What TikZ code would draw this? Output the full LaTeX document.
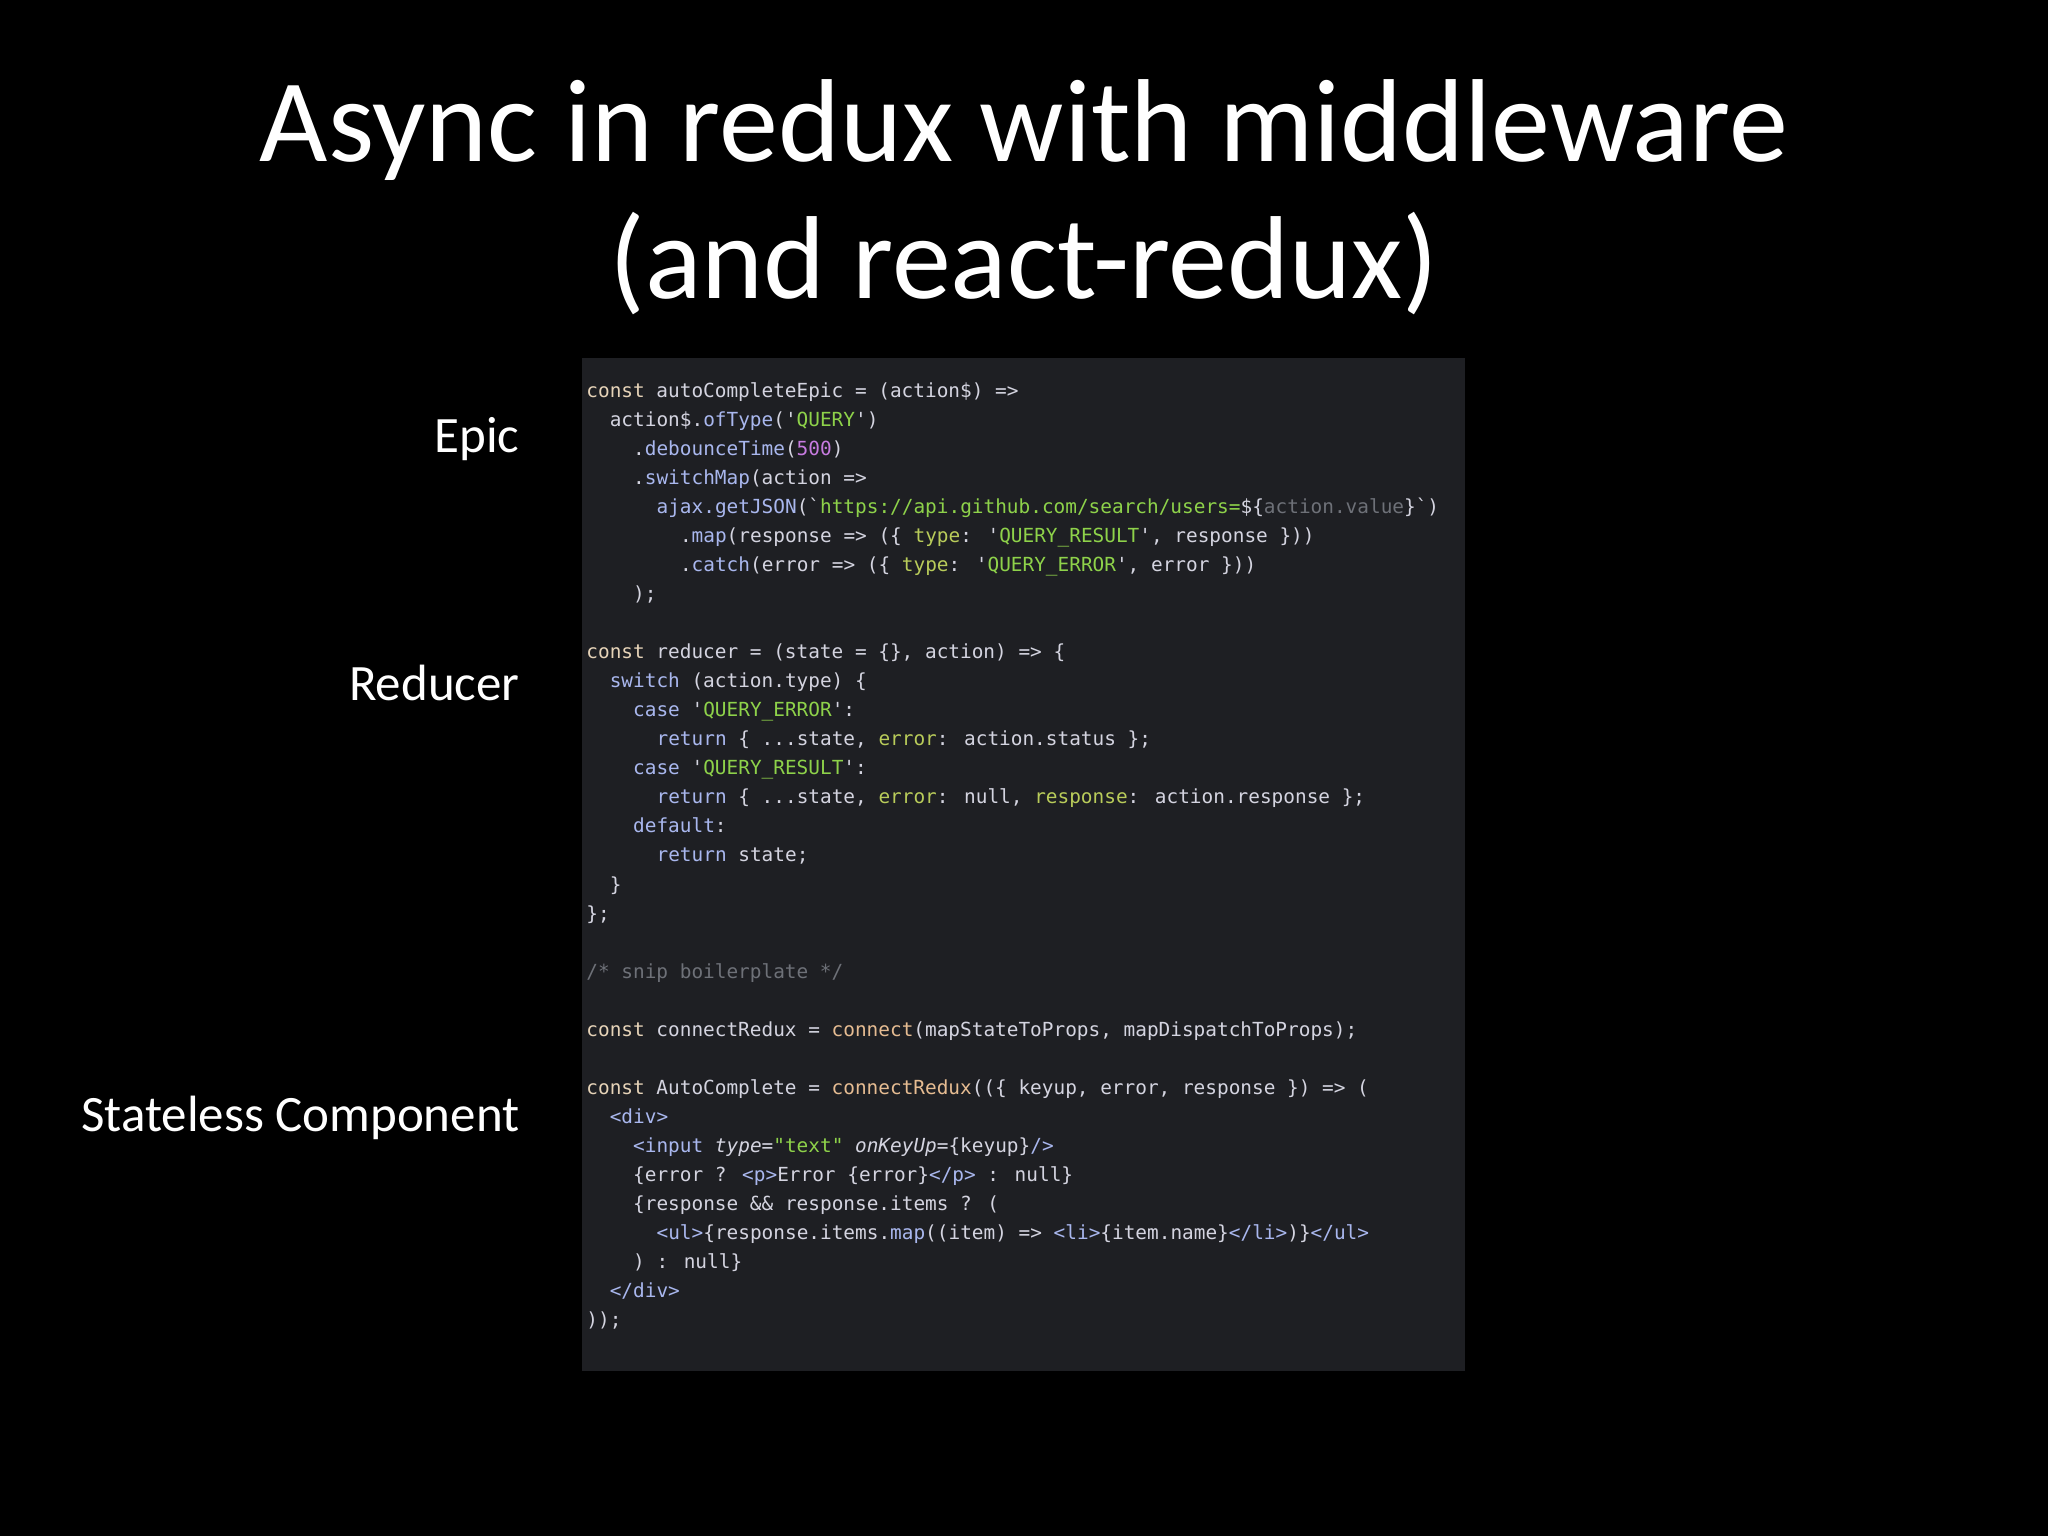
\documentclass[tikz,border=0pt]{standalone}
\usepackage{fontspec}
\setmainfont{Carlito}
\newfontfamily\codefont{DejaVu Sans Mono}
\definecolor{pnl}{HTML}{1E1F23}
\definecolor{txt}{HTML}{D4D4E0}
\definecolor{kw}{HTML}{A9B7EE}
\definecolor{cst}{HTML}{E6D3B8}
\definecolor{str}{HTML}{8ED24A}
\definecolor{prp}{HTML}{B9CC5A}
\definecolor{num}{HTML}{C77BE0}
\definecolor{fn}{HTML}{E6BC92}
\definecolor{cmt}{HTML}{6E7178}
\newcommand\Ks[1]{\textcolor{kw}{#1}}
\newcommand\Cs[1]{\textcolor{cst}{#1}}
\newcommand\Ss[1]{\textcolor{str}{#1}}
\newcommand\Ps[1]{\textcolor{prp}{#1}}
\newcommand\Fs[1]{\textcolor{fn}{#1}}
\tikzset{
  cl/.style={anchor=base west, inner sep=0, text=txt, font=\codefont\fontsize{9.7}{11}\selectfont},
  lbl/.style={anchor=base east, inner sep=0, text=white, font=\fontsize{25.5}{28}\selectfont},
  ttl/.style={anchor=base, inner sep=0, text=white, font=\fontsize{59}{64}\selectfont}
}
\begin{document}
\begin{tikzpicture}[x=0.5pt,y=-0.5pt]
\fill[black] (0,0) rectangle (2048,1536);
\node[ttl] (t1) at (1024,161) {Async in redux with middleware};
\node[ttl] (t2) at (1024,298) {(and react-redux)};
\fill[pnl] (582,358) rectangle (1465,1371);
\node[lbl] (epic) at (520,452) {Epic};
\node[lbl] (red) at (520,700) {Reducer};
\node[lbl] (sc) at (520,1131) {Stateless Component};
\def\dy{29.06}
\def\cw{11.7}
\newcommand\codeln[3]{\node[cl] (c#1) at ({586+\cw*#2},{397+\dy*#1}) {#3};}
\codeln{0}{0}{\Cs{const} autoCompleteEpic = (action\$) =>}
\codeln{1}{2}{action\$.\Ks{ofType}('\Ss{QUERY}')}
\codeln{2}{4}{.\Ks{debounceTime}(\textcolor{num}{500})}
\codeln{3}{4}{.\Ks{switchMap}(action =>}
\codeln{4}{6}{\Ks{ajax.getJSON}(`\Ss{https://api.github.com/search/users=}\$\{\textcolor{cmt}{action.value}\}`)}
\codeln{5}{8}{.\Ks{map}(response => (\{ \Ps{type}: '\Ss{QUERY\_RESULT}', response \}))}
\codeln{6}{8}{.\Ks{catch}(error => (\{ \Ps{type}: '\Ss{QUERY\_ERROR}', error \}))}
\codeln{7}{4}{);}
\codeln{9}{0}{\Cs{const} reducer = (state = \{\}, action) => \{}
\codeln{10}{2}{\Ks{switch} (action.type) \{}
\codeln{11}{4}{\Ks{case} '\Ss{QUERY\_ERROR}':}
\codeln{12}{6}{\Ks{return} \{ ...state, \Ps{error}: action.status \};}
\codeln{13}{4}{\Ks{case} '\Ss{QUERY\_RESULT}':}
\codeln{14}{6}{\Ks{return} \{ ...state, \Ps{error}: null, \Ps{response}: action.response \};}
\codeln{15}{4}{\Ks{default}:}
\codeln{16}{6}{\Ks{return} state;}
\codeln{17}{2}{\}}
\codeln{18}{0}{\};}
\codeln{20}{0}{\textcolor{cmt}{/* snip boilerplate */}}
\codeln{22}{0}{\Cs{const} connectRedux = \Fs{connect}(mapStateToProps, mapDispatchToProps);}
\codeln{24}{0}{\Cs{const} AutoComplete = \Fs{connectRedux}((\{ keyup, error, response \}) => (}
\codeln{25}{2}{\Ks{<div>}}
\codeln{26}{4}{\Ks{<input} \textit{type}=\Ss{"text"} \textit{onKeyUp}=\{keyup\}\Ks{/>}}
\codeln{27}{4}{\{error ? \Ks{<p>}Error \{error\}\Ks{</p>} : null\}}
\codeln{28}{4}{\{response \&\& response.items ? (}
\codeln{29}{6}{\Ks{<ul>}\{response.items.\Ks{map}((item) => \Ks{<li>}\{item.name\}\Ks{</li>})\}\Ks{</ul>}}
\codeln{30}{4}{) : null\}}
\codeln{31}{2}{\Ks{</div>}}
\codeln{32}{0}{));}
\end{tikzpicture}
\end{document}
